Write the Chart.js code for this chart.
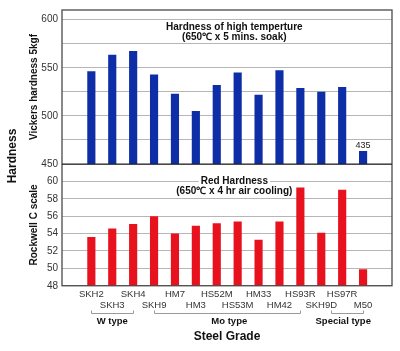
<!DOCTYPE html>
<html>
<head>
<meta charset="utf-8">
<script src="https://cdn.jsdelivr.net/npm/chart.js@4"></script>
<style>
  html, body { margin: 0; padding: 0; background: #fff; }
  #wrap { width: 400px; height: 351px; }
</style>
</head>
<body>
<div id="wrap"><canvas id="chart-1"></canvas></div>
<script>
// steel grades, left to right
const grades = ['SKH2', 'SKH3', 'SKH4', 'SKH9', 'HM7', 'HM3', 'HS52M', 'HS53M', 'HM33', 'HM42', 'HS93R', 'SKH9D', 'HS97R', 'M50'];

// hardness at high temperature (HV 5kgf), last bar is drawn cut off
const vickers = [546.5, 563.5, 567.5, 543, 523, 505, 532, 545, 522, 547.5, 529, 525, 530, 463.5];
const vickersNotes = ['', '', '', '', '', '', '', '', '', '', '', '', '', '435'];

// red hardness (HRC)
const rockwell = [53.6, 54.6, 55.1, 56.0, 54.0, 54.9, 55.2, 55.4, 53.3, 55.4, 59.3, 54.1, 59.05, 49.9];

// grade groups (index ranges)
const groupNames = ['W type', 'Mo type', 'Special type'];
const groupFrom = [0, 3, 11.47];
const groupTo = [2, 10, 13];
const groupLabelAt = [1, 6.6, 12.05];

const blue = '#0e2ea8';
const red = '#e8121e';

const decor = {
  id: 'decor',
  afterDatasetsDraw(chart) {
    const ctx = chart.ctx;
    const a = chart.chartArea;
    const x = chart.scales.x;
    const y = chart.scales.y;
    const y2 = chart.scales.y2;
    ctx.save();

    // panel captions
    ctx.fillStyle = '#111';
    ctx.textAlign = 'center';
    ctx.textBaseline = 'middle';
    ctx.font = 'bold 10px Arial, "Liberation Sans", sans-serif';
    const cx = x.getPixelForValue(6.84);
    ctx.fillText('Hardness of high temperture', cx, y.getPixelForValue(592));
    ctx.fillText('(650\u2103 x 5 mins. soak)', cx, y.getPixelForValue(582.2));

    const ry = y2.getPixelForValue(60);
    const w = ctx.measureText('Red Hardness').width;
    ctx.fillStyle = '#fff';
    ctx.fillRect(cx - w / 2 - 2, ry - 2, w + 4, 4);
    ctx.fillStyle = '#111';
    ctx.fillText('Red Hardness', cx, ry);
    ctx.fillText('(650\u2103 x 4 hr air cooling)', cx, y2.getPixelForValue(58.85));

    // value note above cut bar
    ctx.font = '9px Arial, "Liberation Sans", sans-serif';
    ctx.fillStyle = '#222';
    const meta = chart.getDatasetMeta(0);
    vickersNotes.forEach((t, i) => {
      if (!t) return;
      const bar = meta.data[i];
      ctx.fillText(t, bar.x, bar.y - 6);
    });

    // frame and panel divider
    ctx.strokeStyle = '#4a4a4a';
    ctx.lineWidth = 1.3;
    ctx.strokeRect(a.left, a.top, a.right - a.left, a.bottom - a.top);
    ctx.strokeStyle = '#222';
    ctx.beginPath();
    ctx.moveTo(a.left, y.bottom);
    ctx.lineTo(a.right, y.bottom);
    ctx.stroke();
    ctx.restore();
  },
  afterDraw(chart) {
    const ctx = chart.ctx;
    const x = chart.scales.x;
    ctx.save();

    // group brackets under the tick labels
    const by = 313.5;
    ctx.strokeStyle = '#9a9a9a';
    ctx.lineWidth = 1;
    ctx.fillStyle = '#111';
    ctx.textAlign = 'center';
    ctx.textBaseline = 'middle';
    ctx.font = 'bold 9.5px Arial, "Liberation Sans", sans-serif';
    groupNames.forEach((g, i) => {
      const x0 = Math.round(x.getPixelForValue(groupFrom[i])) + 0.5;
      const x1 = Math.round(x.getPixelForValue(groupTo[i])) + 0.5;
      ctx.beginPath();
      ctx.moveTo(x0, by - 3);
      ctx.lineTo(x0, by);
      ctx.lineTo(x1, by);
      ctx.lineTo(x1, by - 3);
      ctx.stroke();
      ctx.fillText(g, x.getPixelForValue(groupLabelAt[i]), 321.5);
    });

    // overall vertical title
    ctx.font = 'bold 12px Arial, "Liberation Sans", sans-serif';
    ctx.translate(13, 156);
    ctx.rotate(-Math.PI / 2);
    ctx.fillText('Hardness', 0, 0);
    ctx.restore();
  }
};

const tickFont = { family: 'Arial, "Liberation Sans", sans-serif', size: 10 };
const axisTitleFont = { family: 'Arial, "Liberation Sans", sans-serif', size: 10, weight: 'bold' };

const ctx = document.getElementById('chart-1').getContext('2d');
const myChart = new Chart(ctx, {
  type: 'bar',
  data: {
    datasets: [
      {
        label: 'Vickers hardness',
        data: vickers.map((v, i) => ({ x: i, y: v })),
        yAxisID: 'y',
        backgroundColor: blue,
        grouped: false,
        barPercentage: 0.5,
        categoryPercentage: 0.78
      },
      {
        label: 'Red hardness',
        data: rockwell.map((v, i) => ({ x: i, y: v })),
        yAxisID: 'y2',
        backgroundColor: red,
        grouped: false,
        barPercentage: 0.5,
        categoryPercentage: 0.78
      }
    ]
  },
  options: {
    responsive: true,
    maintainAspectRatio: false,
    animation: false,
    layout: { padding: { top: 5, right: 8, left: 0, bottom: 0 } },
    plugins: {
      legend: { display: false },
      tooltip: { enabled: false }
    },
    scales: {
      // listed bottom panel first so the layout stacks it under the top one
      y2: {
        position: 'left',
        stack: 'hard',
        stackWeight: 124,
        min: 48,
        max: 62,
        grid: { color: '#b6b6b6', drawTicks: false },
        border: { display: false },
        ticks: {
          stepSize: 2,
          autoSkip: false,
          includeBounds: false,
          padding: 4,
          color: '#333',
          font: tickFont,
          callback: (v) => (v <= 60 ? v : '')
        },
        title: {
          display: true,
          text: 'Rockwell C scale',
          color: '#111',
          font: axisTitleFont,
          padding: { top: 28, bottom: 0 }
        },
        afterFit: (s) => { s.width = 62; }
      },
      y: {
        position: 'left',
        stack: 'hard',
        stackWeight: 157,
        min: 450,
        max: 610,
        grid: { color: '#b6b6b6', drawTicks: false },
        border: { display: false },
        ticks: {
          stepSize: 25,
          autoSkip: false,
          includeBounds: false,
          padding: 4,
          color: '#333',
          font: tickFont,
          callback: (v) => (v % 50 === 0 && v <= 600 ? v : '')
        },
        title: {
          display: true,
          text: 'Vickers hardness 5kgf',
          color: '#111',
          font: axisTitleFont,
          padding: { top: 28, bottom: 0 }
        },
        afterFit: (s) => { s.width = 62; }
      },
      x: {
        type: 'linear',
        min: -0.84,
        max: 13.82,
        grid: { display: false, drawTicks: false },
        border: { display: false },
        ticks: {
          stepSize: 1,
          autoSkip: false,
          maxRotation: 0,
          includeBounds: false,
          padding: 3,
          color: '#333',
          font: { family: 'Arial, "Liberation Sans", sans-serif', size: 9.5, lineHeight: 1.15 },
          callback: (v) => {
            if (!Number.isInteger(v) || v < 0 || v >= grades.length) return '';
            return v % 2 === 0 ? [grades[v], ''] : ['', grades[v]];
          }
        },
        title: {
          display: true,
          text: 'Steel Grade',
          color: '#111',
          font: { family: 'Arial, "Liberation Sans", sans-serif', size: 12, weight: 'bold' },
          padding: { top: 16, bottom: 7 }
        }
      }
    }
  },
  plugins: [decor]
});
</script>
</body>
</html>
